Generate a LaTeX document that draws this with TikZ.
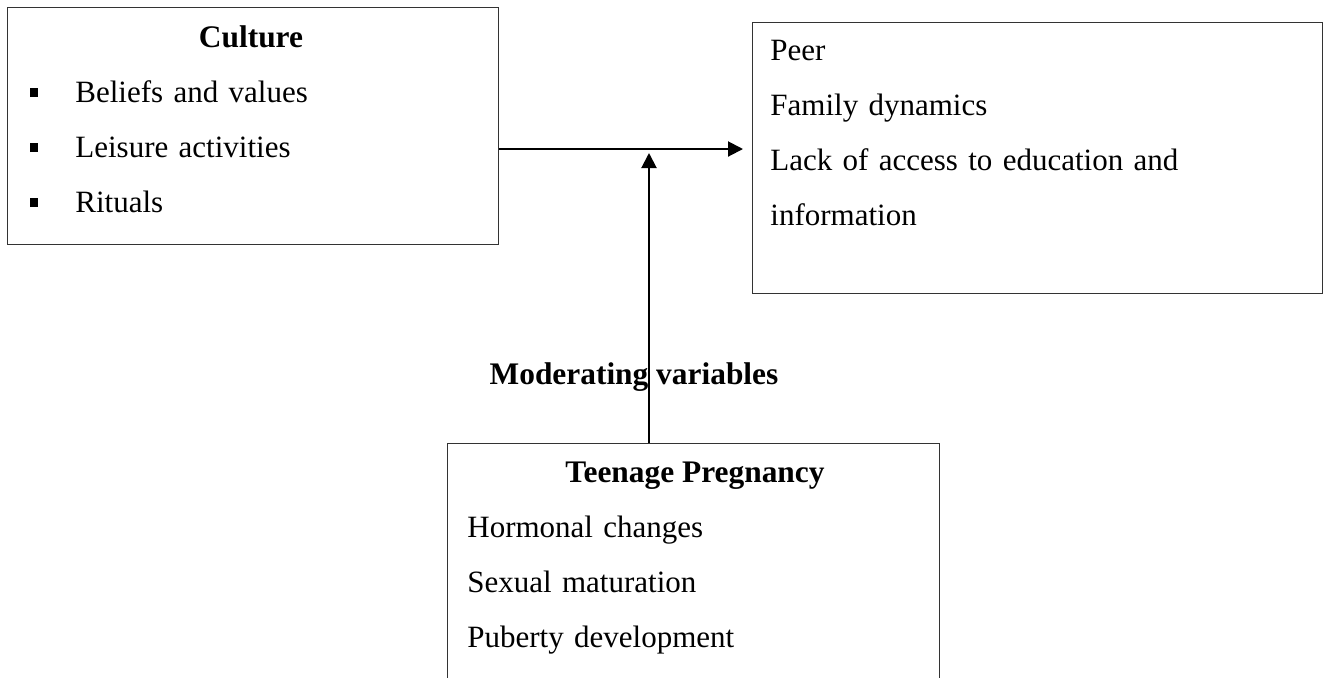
\documentclass[tikz,border=0pt]{standalone}
\usepackage{fontspec}
\setmainfont{Liberation Serif}
\usetikzlibrary{arrows.meta,positioning}
\newcommand{\sqbullet}{\rule[2.5pt]{4pt}{4.5pt}\hspace{18.5pt}}

\begin{document}
\begin{tikzpicture}[
   x=0.5pt,y=-0.5pt,
   box/.style={draw=black!80,line width=0.7pt,anchor=north west,inner sep=0pt},
   txt/.style={anchor=base west,inner sep=0pt,align=left,text width=#1,
               font=\fontsize{15.5pt}{27.5pt}\selectfont},
   head/.style={anchor=base,inner sep=0pt,font=\fontsize{15.7pt}{18pt}\selectfont\bfseries},
   arr/.style={-{Triangle[length=7.5pt,width=7.5pt]},line width=1pt}
 ]
  \useasboundingbox (0,0) rectangle (1330,677);
  \clip (0,0) rectangle (1330,677);
  \node[box,minimum width=245.5pt,minimum height=118.5pt] (culture) at (7,7) {};
  \node[box,minimum width=285pt,minimum height=135.5pt] (factors) at (752,22) {};
  \node[box,minimum width=246pt,minimum height=130pt] (teen) at (447,443) {};
  \node[head] (culturehead) at (251,47) {Culture};
  \node[txt=220pt] (culturelist) at (30,102)
       {\sqbullet Beliefs and values\\ \sqbullet Leisure activities\\ \sqbullet Rituals};
  \node[txt=280pt] (factorlist) at (770,60)
       {Peer\\Family dynamics\\Lack of access to education and\\information};
  \node[head] (teenhead) at (695,482) {Teenage Pregnancy};
  \node[txt=220pt] (teenlist) at (467,537)
       {Hormonal changes\\Sexual maturation\\Puberty development};
  \node[head] (modlabel) at (634,384) {Moderating variables};
  \coordinate (cross) at (649,149);
  \draw[arr] (culture.east |- cross) -- ([xshift=-4.5pt]factors.west |- cross);
  \draw[arr] (teen.north -| cross) -- ([yshift=-2pt]cross);
\end{tikzpicture}
\end{document}
